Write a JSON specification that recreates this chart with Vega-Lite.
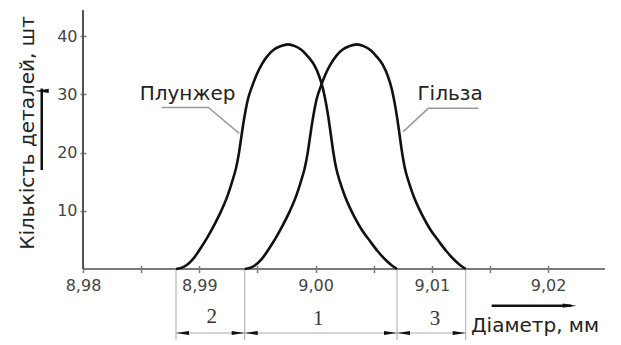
{
  "$schema": "https://vega.github.io/schema/vega-lite/v6.json",
  "width": 522,
  "height": 335,
  "autosize": {"type": "none"},
  "padding": {"left": 83, "top": 10, "right": 16, "bottom": 0},
  "background": "white",
  "config": {"view": {"stroke": null}, "font": "DejaVu Sans"},
  "datasets": {
    "axes": [
      {"x": 8.98, "x2": 9.0249, "y": 0, "y2": 0, "part": "x"},
      {"x": 8.98, "x2": 8.98, "y": 0, "y2": 44.5, "part": "y"}
    ],
    "curves": [
      {"series": "Плунжер", "x": 8.98800, "y": 0},
      {"series": "Плунжер", "x": 8.98886, "y": 0.6},
      {"series": "Плунжер", "x": 8.98946, "y": 1.7},
      {"series": "Плунжер", "x": 8.99006, "y": 3.4},
      {"series": "Плунжер", "x": 8.99066, "y": 5.3},
      {"series": "Плунжер", "x": 8.99127, "y": 7.5},
      {"series": "Плунжер", "x": 8.99187, "y": 9.9},
      {"series": "Плунжер", "x": 8.99238, "y": 12.3},
      {"series": "Плунжер", "x": 8.99281, "y": 14.9},
      {"series": "Плунжер", "x": 8.99316, "y": 17.3},
      {"series": "Плунжер", "x": 8.99342, "y": 20.0},
      {"series": "Плунжер", "x": 8.99359, "y": 22.3},
      {"series": "Плунжер", "x": 8.99376, "y": 24.6},
      {"series": "Плунжер", "x": 8.99398, "y": 27.2},
      {"series": "Плунжер", "x": 8.99419, "y": 29.2},
      {"series": "Плунжер", "x": 8.99453, "y": 31.3},
      {"series": "Плунжер", "x": 8.99496, "y": 33.5},
      {"series": "Плунжер", "x": 8.99539, "y": 35.2},
      {"series": "Плунжер", "x": 8.99591, "y": 36.7},
      {"series": "Плунжер", "x": 8.99643, "y": 37.7},
      {"series": "Плунжер", "x": 8.99703, "y": 38.3},
      {"series": "Плунжер", "x": 8.99763, "y": 38.6},
      {"series": "Плунжер", "x": 8.99823, "y": 38.3},
      {"series": "Плунжер", "x": 8.99883, "y": 37.6},
      {"series": "Плунжер", "x": 8.99935, "y": 36.5},
      {"series": "Плунжер", "x": 8.99987, "y": 35.1},
      {"series": "Плунжер", "x": 9.00030, "y": 33.2},
      {"series": "Плунжер", "x": 9.00064, "y": 31.0},
      {"series": "Плунжер", "x": 9.00090, "y": 28.5},
      {"series": "Плунжер", "x": 9.00111, "y": 26.0},
      {"series": "Плунжер", "x": 9.00129, "y": 23.5},
      {"series": "Плунжер", "x": 9.00150, "y": 20.5},
      {"series": "Плунжер", "x": 9.00176, "y": 17.5},
      {"series": "Плунжер", "x": 9.00210, "y": 15.0},
      {"series": "Плунжер", "x": 9.00253, "y": 12.5},
      {"series": "Плунжер", "x": 9.00296, "y": 10.5},
      {"series": "Плунжер", "x": 9.00339, "y": 8.8},
      {"series": "Плунжер", "x": 9.00399, "y": 6.7},
      {"series": "Плунжер", "x": 9.00468, "y": 4.8},
      {"series": "Плунжер", "x": 9.00537, "y": 3.0},
      {"series": "Плунжер", "x": 9.00606, "y": 1.5},
      {"series": "Плунжер", "x": 9.00657, "y": 0.6},
      {"series": "Плунжер", "x": 9.00701, "y": 0},
      {"series": "Гільза", "x": 8.99391, "y": 0},
      {"series": "Гільза", "x": 8.99477, "y": 0.6},
      {"series": "Гільза", "x": 8.99537, "y": 1.7},
      {"series": "Гільза", "x": 8.99597, "y": 3.4},
      {"series": "Гільза", "x": 8.99657, "y": 5.3},
      {"series": "Гільза", "x": 8.99718, "y": 7.5},
      {"series": "Гільза", "x": 8.99778, "y": 9.9},
      {"series": "Гільза", "x": 8.99829, "y": 12.3},
      {"series": "Гільза", "x": 8.99872, "y": 14.9},
      {"series": "Гільза", "x": 8.99907, "y": 17.3},
      {"series": "Гільза", "x": 8.99933, "y": 20.0},
      {"series": "Гільза", "x": 8.99950, "y": 22.3},
      {"series": "Гільза", "x": 8.99967, "y": 24.6},
      {"series": "Гільза", "x": 8.99989, "y": 27.2},
      {"series": "Гільза", "x": 9.00010, "y": 29.2},
      {"series": "Гільза", "x": 9.00044, "y": 31.3},
      {"series": "Гільза", "x": 9.00087, "y": 33.5},
      {"series": "Гільза", "x": 9.00130, "y": 35.2},
      {"series": "Гільза", "x": 9.00182, "y": 36.7},
      {"series": "Гільза", "x": 9.00234, "y": 37.7},
      {"series": "Гільза", "x": 9.00294, "y": 38.3},
      {"series": "Гільза", "x": 9.00354, "y": 38.6},
      {"series": "Гільза", "x": 9.00414, "y": 38.3},
      {"series": "Гільза", "x": 9.00474, "y": 37.6},
      {"series": "Гільза", "x": 9.00526, "y": 36.5},
      {"series": "Гільза", "x": 9.00578, "y": 35.1},
      {"series": "Гільза", "x": 9.00621, "y": 33.2},
      {"series": "Гільза", "x": 9.00655, "y": 31.0},
      {"series": "Гільза", "x": 9.00681, "y": 28.5},
      {"series": "Гільза", "x": 9.00702, "y": 26.0},
      {"series": "Гільза", "x": 9.00720, "y": 23.5},
      {"series": "Гільза", "x": 9.00741, "y": 20.5},
      {"series": "Гільза", "x": 9.00767, "y": 17.5},
      {"series": "Гільза", "x": 9.00801, "y": 15.0},
      {"series": "Гільза", "x": 9.00844, "y": 12.5},
      {"series": "Гільза", "x": 9.00887, "y": 10.5},
      {"series": "Гільза", "x": 9.00930, "y": 8.8},
      {"series": "Гільза", "x": 9.00990, "y": 6.7},
      {"series": "Гільза", "x": 9.01059, "y": 4.8},
      {"series": "Гільза", "x": 9.01128, "y": 3.0},
      {"series": "Гільза", "x": 9.01197, "y": 1.5},
      {"series": "Гільза", "x": 9.01248, "y": 0.6},
      {"series": "Гільза", "x": 9.01292, "y": 0}
    ],
    "leaders": [
      {"series": "p", "x": 8.98677, "y": 27.75},
      {"series": "p", "x": 8.99078, "y": 27.75},
      {"series": "p", "x": 8.99344, "y": 23.3},
      {"series": "h", "x": 9.01400, "y": 27.6},
      {"series": "h", "x": 9.00970, "y": 27.6},
      {"series": "h", "x": 9.00755, "y": 23.6}
    ],
    "extlines": [
      {"x": 8.98800, "y": 0, "y2": -12.2},
      {"x": 8.99391, "y": 0, "y2": -12.2},
      {"x": 9.00701, "y": 0, "y2": -12.2},
      {"x": 9.01292, "y": 0, "y2": -12.2}
    ],
    "dimline": [
      {"x": 8.98800, "x2": 9.01292, "y": -11, "y2": -11}
    ],
    "dimarrows": [
      {"x": 8.98856, "y": -11, "dir": "left"},
      {"x": 8.99335, "y": -11, "dir": "right"},
      {"x": 8.99447, "y": -11, "dir": "left"},
      {"x": 9.00645, "y": -11, "dir": "right"},
      {"x": 9.00757, "y": -11, "dir": "left"},
      {"x": 9.01236, "y": -11, "dir": "right"}
    ],
    "zones": [
      {"x": 8.99107, "y": -8.25, "label": "2"},
      {"x": 9.00024, "y": -8.6, "label": "1"},
      {"x": 9.01028, "y": -8.6, "label": "3"}
    ],
    "names": [
      {"x": 8.98899, "y": 29.0, "label": "Плунжер"},
      {"x": 9.01157, "y": 29.0, "label": "Гільза"}
    ],
    "arrowshafts": [
      {"x": 9.01515, "x2": 9.02200, "y": -6.3, "y2": -6.3},
      {"x": 8.97645, "x2": 8.97645, "y": 17.0, "y2": 31.0}
    ],
    "arrowheads": [
      {"x": 9.02186, "y": -6.3, "dir": "right"},
      {"x": 8.97645, "y": 30.6, "dir": "up"}
    ]
  },
  "encoding": {
    "x": {
      "field": "x",
      "type": "quantitative",
      "scale": {"domain": [8.98, 9.0249], "nice": false, "zero": false},
      "axis": {
        "title": "Діаметр, мм",
        "values": [8.98, 8.985, 8.99, 8.995, 9.0, 9.005, 9.01, 9.015, 9.02],
        "labelExpr": "abs(datum.value*100 - round(datum.value*100)) < 0.01 ? replace(format(datum.value, '.2f'), '.', ',') : ''",
        "domain": false,
        "grid": false,
        "offset": -79.5,
        "tickSize": 7,
        "tickColor": "#777",
        "tickWidth": 1.5,
        "labelPadding": 5,
        "labelFontSize": 16,
        "labelColor": "#444",
        "labelFlush": false,
        "labelOverlap": false,
        "labelBound": false,
        "titleX": 451.5,
        "titleY": 65.5,
        "titleAlign": "center",
        "titleBaseline": "alphabetic",
        "titleFontSize": 20,
        "titleFontWeight": "normal",
        "titleColor": "#222"
      }
    },
    "y": {
      "field": "y",
      "type": "quantitative",
      "scale": {"domain": [-13.06, 44.5], "nice": false, "zero": false},
      "axis": {
        "title": "Кількість деталей, шт",
        "values": [10, 20, 30, 40],
        "domain": false,
        "grid": false,
        "offset": -3,
        "tickSize": 6,
        "tickColor": "#777",
        "tickWidth": 1.5,
        "labelPadding": 3,
        "labelFontSize": 16,
        "labelColor": "#444",
        "titleX": -53,
        "titleY": 122.5,
        "titleAngle": -90,
        "titleAlign": "center",
        "titleBaseline": "alphabetic",
        "titleFontSize": 20,
        "titleFontWeight": "normal",
        "titleColor": "#222"
      }
    }
  },
  "layer": [
    {
      "data": {"name": "axes"},
      "mark": {"type": "rule", "strokeWidth": 2},
      "encoding": {
        "x2": {"field": "x2"},
        "y2": {"field": "y2"},
        "color": {"field": "part", "type": "nominal", "scale": {"domain": ["x", "y"], "range": ["#7a7a7a", "#555555"]}, "legend": null}
      }
    },
    {
      "data": {"name": "extlines"},
      "mark": {"type": "rule", "color": "#aaa", "strokeWidth": 1},
      "encoding": {"y2": {"field": "y2"}}
    },
    {
      "data": {"name": "dimline"},
      "mark": {"type": "rule", "color": "#aaa", "strokeWidth": 1},
      "encoding": {"x2": {"field": "x2"}, "y2": {"field": "y2"}}
    },
    {
      "data": {"name": "dimarrows"},
      "mark": {"type": "point", "filled": true, "color": "#111", "opacity": 1, "size": 169},
      "encoding": {
        "shape": {
          "field": "dir",
          "type": "nominal",
          "scale": {"domain": ["left", "right"], "range": ["M-1,0L1,-0.3L1,0.3Z", "M1,0L-1,-0.3L-1,0.3Z"]},
          "legend": null
        }
      }
    },
    {
      "data": {"name": "leaders"},
      "mark": {"type": "line", "color": "#999", "strokeWidth": 1.5},
      "encoding": {"detail": {"field": "series"}}
    },
    {
      "data": {"name": "curves"},
      "mark": {"type": "line", "color": "#111", "strokeWidth": 2.6, "interpolate": "monotone"},
      "encoding": {"detail": {"field": "series"}}
    },
    {
      "data": {"name": "zones"},
      "mark": {"type": "text", "font": "Liberation Serif", "fontSize": 21, "color": "#333", "baseline": "middle", "align": "center"},
      "encoding": {"text": {"field": "label"}}
    },
    {
      "data": {"name": "names"},
      "mark": {"type": "text", "fontSize": 20, "color": "#222", "baseline": "alphabetic", "align": "center"},
      "encoding": {"text": {"field": "label"}}
    },
    {
      "data": {"name": "arrowshafts"},
      "mark": {"type": "rule", "color": "#111", "strokeWidth": 2.5},
      "encoding": {"x2": {"field": "x2"}, "y2": {"field": "y2"}}
    },
    {
      "data": {"name": "arrowheads"},
      "mark": {"type": "point", "filled": true, "color": "#111", "opacity": 1, "size": 196},
      "encoding": {
        "shape": {
          "field": "dir",
          "type": "nominal",
          "scale": {"domain": ["right", "up"], "range": ["M1,0L-1,-0.4L-1,0.4Z", "M0,-1L-0.4,1L0.4,1Z"]},
          "legend": null
        }
      }
    }
  ]
}
